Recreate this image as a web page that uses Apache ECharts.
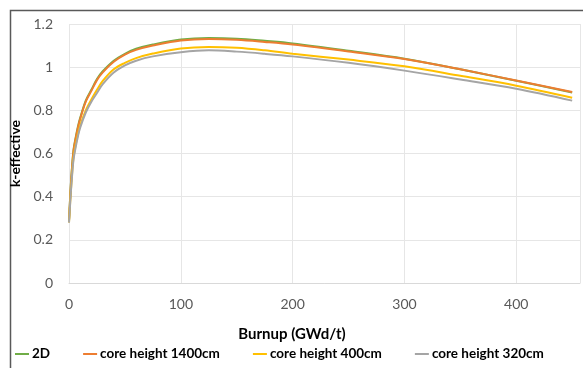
<!DOCTYPE html>
<html>
<head>
<meta charset="utf-8">
<script src="https://cdn.jsdelivr.net/npm/echarts@6/dist/echarts.min.js"></script>
<style>
  html, body { margin: 0; padding: 0; background: #fff; }
  #chart { width: 583px; height: 368px; }
</style>
</head>
<body>
<div id="chart"></div>
<script>
// Burnup points (GWd/t)
const burnup = [0, 1, 2, 4, 6, 8, 10, 15, 20, 25, 30, 40, 50, 60, 75, 100, 125, 150, 175, 200, 250, 300, 350, 400, 450];

// k-effective per model
const k2D   = [0.29, 0.395, 0.485, 0.615, 0.675, 0.725, 0.765, 0.845, 0.895, 0.945, 0.98, 1.03, 1.062, 1.085, 1.105, 1.128, 1.135, 1.132, 1.122, 1.11, 1.076, 1.039, 0.99, 0.937, 0.883];
const k1400 = [0.29, 0.39, 0.48, 0.61, 0.67, 0.72, 0.76, 0.84, 0.89, 0.94, 0.975, 1.025, 1.058, 1.08, 1.10, 1.124, 1.131, 1.127, 1.117, 1.105, 1.073, 1.038, 0.99, 0.938, 0.885];
const k400  = [0.28, 0.37, 0.45, 0.58, 0.64, 0.69, 0.73, 0.80, 0.85, 0.895, 0.935, 0.99, 1.02, 1.042, 1.063, 1.087, 1.094, 1.09, 1.078, 1.062, 1.035, 1.004, 0.96, 0.914, 0.858];
const k320  = [0.28, 0.365, 0.445, 0.57, 0.63, 0.68, 0.72, 0.79, 0.84, 0.88, 0.92, 0.975, 1.008, 1.03, 1.05, 1.069, 1.078, 1.072, 1.062, 1.05, 1.02, 0.984, 0.943, 0.90, 0.845];

const seriesNames = ['2D', 'core height 1400cm', 'core height 400cm', 'core height 320cm'];
const seriesValues = [k2D, k1400, k400, k320];
const colors = ['#70AD47', '#ED7D31', '#FFC000', '#A5A5A5'];

const FONT = 'Lato';

const chart = echarts.init(document.getElementById('chart'), null, { renderer: 'canvas' });

chart.setOption({
  animation: false,
  color: colors,
  grid: { left: 69, top: 24, right: 3, bottom: 85, containLabel: false },
  xAxis: {
    type: 'value',
    min: 0,
    max: 457,
    interval: 100,
    axisLine: { show: true, lineStyle: { color: '#D9D9D9', width: 1 } },
    axisTick: { show: false },
    splitLine: { show: true, lineStyle: { color: '#E6E6E6', width: 1 } },
    axisLabel: { color: '#595959', fontFamily: FONT, fontSize: 14, margin: 14, showMaxLabel: false }
  },
  yAxis: {
    type: 'value',
    min: 0,
    max: 1.2,
    interval: 0.2,
    name: 'k-effective',
    nameLocation: 'middle',
    nameGap: 46,
    nameRotate: 90,
    nameTextStyle: { color: '#000', fontFamily: FONT, fontSize: 14, fontWeight: 'bold' },
    axisLine: { show: false },
    axisTick: { show: false },
    splitLine: { show: true, lineStyle: { color: '#E6E6E6', width: 1 } },
    axisLabel: {
      color: '#595959', fontFamily: FONT, fontSize: 14, margin: 16,
      formatter: v => (Math.round(v * 10) / 10).toString()
    }
  },
  legend: {
    left: 10,
    bottom: 2,
    itemGap: 33,
    itemWidth: 14,
    itemHeight: 2,
    icon: 'rect',
    textStyle: { color: '#000', fontFamily: FONT, fontSize: 13.5, fontWeight: 'bold', padding: [0, 0, 0, -2] },
    data: seriesNames
  },
  graphic: [
    {
      type: 'rect',
      shape: { x: 10.5, y: 10.5, width: 600, height: 400 },
      style: { fill: 'none', stroke: '#595959', lineWidth: 1.5 },
      silent: true,
      z: 0
    },
    {
      type: 'text',
      style: {
        text: 'Burnup (GWd/t)',
        x: 292, y: 334,
        align: 'center', verticalAlign: 'middle',
        fill: '#000',
        font: 'bold 15px ' + FONT
      },
      silent: true
    }
  ],
  series: seriesNames.map((name, i) => ({
    name: name,
    type: 'line',
    data: burnup.map((b, j) => [b, seriesValues[i][j]]),
    showSymbol: false,
    smooth: 0.35,
    lineStyle: { width: 2, color: colors[i] },
    itemStyle: { color: colors[i] }
  }))
});
</script>
</body>
</html>
